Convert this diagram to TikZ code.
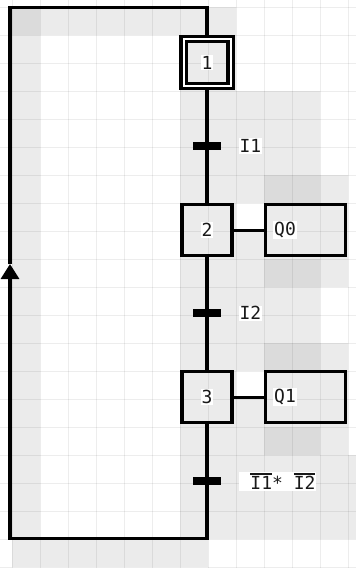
\documentclass[tikz,border=0pt]{standalone}
\usepackage{fontspec}
\newfontfamily\grafmono{DejaVu Sans Mono}
\usetikzlibrary{arrows.meta,positioning}
\newcommand{\negated}[1]{\setbox0\hbox{#1}\rlap{\raisebox{\dimexpr\ht0+2pt\relax}{\rule{\wd0}{1.6pt}}}\box0}

\begin{document}
\begin{tikzpicture}[x=1pt,y=-1pt,line width=3.2pt,
    font=\fontsize{18}{21}\selectfont\grafmono,
    stepbox/.style={draw,minimum width=50pt,minimum height=51pt,inner sep=0pt},
    initstep/.style={draw,double=white,double distance=2pt,minimum size=47pt,inner sep=0pt,outer sep=4pt},
    actbox/.style={draw,minimum width=80pt,minimum height=51pt,inner sep=0pt},
    bar/.style={fill=black,minimum width=28pt,minimum height=8pt,inner sep=0pt,outer sep=0pt},
    tag/.style={fill=white,inner sep=1pt,text=black!90},
    cellL/.style={fill=black!8},
    cellD/.style={fill=black!14},
    gridline/.style={draw=black,opacity=.07,line width=1pt}]
    % sheet
    \fill[white] (0,0) rectangle (356,568);
    \useasboundingbox (0,0) rectangle (356,568);
    \fill[cellL] (12,7) rectangle (236,35);
    \fill[cellL] (12,35) rectangle (40,539);
    \fill[cellL] (12,539) rectangle (208,567);
    \fill[cellL] (180,35) rectangle (236,539);
    \fill[cellL] (236,91) rectangle (320,203);
    \fill[cellL] (264,175) rectangle (348,259);
    \fill[cellL] (236,231) rectangle (264,287);
    \fill[cellL] (264,259) rectangle (348,287);
    \fill[cellL] (236,287) rectangle (320,343);
    \fill[cellL] (236,343) rectangle (348,371);
    \fill[cellL] (264,371) rectangle (348,399);
    \fill[cellL] (236,399) rectangle (348,455);
    \fill[cellL] (236,455) rectangle (356,539);
    \fill[cellD] (12,7) rectangle (40,35);
    \foreach \r in {6,9,12,15}
      \fill[cellD] (264,7+28*\r) rectangle ++(56,28);
    \foreach \i in {0,...,12}
      \draw[gridline] (12+28*\i,0) -- ++(0,568);
    \foreach \j in {0,...,20}
      \draw[gridline] (0,7+28*\j) -- ++(356,0);
    % steps and transitions
    \node[initstep] (s1) at (207,62.5) {};
    \node[tag] (n1) at (s1) {1};
    \node[bar,below=52pt of s1] (t1) {};
    \node[tag,right=16pt of t1] (c1) {I1};
    \node[stepbox,below=53pt of t1] (s2) {};
    \node[tag] (n2) at (s2) {2};
    \node[actbox,right=30pt of s2] (a2) {};
    \node[tag,right=8pt of a2.west] (q2) {Q0};
    \node[bar,below=52pt of s2] (t2) {};
    \node[tag,right=16pt of t2] (c2) {I2};
    \node[stepbox,below=53pt of t2] (s3) {};
    \node[tag] (n3) at (s3) {3};
    \node[actbox,right=30pt of s3] (a3) {};
    \node[tag,right=8pt of a3.west] (q3) {Q1};
    \node[bar,below=53pt of s3] (t3) {};
    \node[tag,right=16pt of t3] (c3) {\ \negated{I1}*\ \negated{I2}};
    \foreach \a/\b in {s1/t1,t1/s2,s2/t2,t2/s3,s3/t3,s2/a2,s3/a3}
      \draw (\a) -- (\b);
    % loop back to step 1
    \coordinate (loopbot) at (10,538.5);
    \coordinate (loopmid) at (10,264);
    \coordinate (looptop) at (10,7.5);
    \draw[-{Triangle[width=18pt,length=15pt]}] (t3) -- (t3 |- loopbot) -- (loopbot) -- (loopmid);
    \draw (loopmid) -- (looptop) -| (s1);
  \end{tikzpicture}
\end{document}
